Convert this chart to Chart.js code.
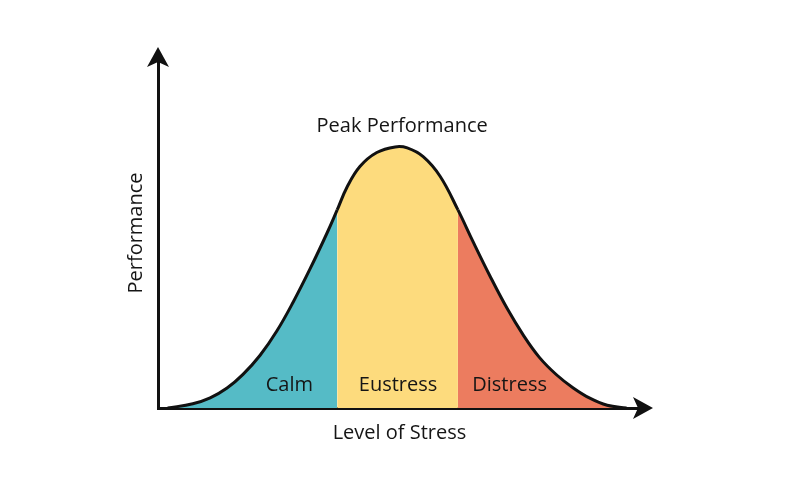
<!DOCTYPE html>
<html>
<head>
<meta charset="utf-8">
<title>Level of Stress vs Performance</title>
<script src="https://cdn.jsdelivr.net/npm/chart.js@4.4.1/dist/chart.umd.min.js"></script>
<style>
    html,body{margin:0;padding:0;background:#fff;}
    #wrap{width:800px;height:500px;}
</style>
</head>
<body>
<div id="wrap"><canvas id="stressChart" width="800" height="500"></canvas></div>
<script>

/* ==========================================
   DATA
========================================== */

// level of stress (x) and performance (y)
const stressLevels = [2, 7.2, 10.8, 14.3, 17.6, 21.1, 24.6, 28.0, 31.5, 35.0, 37.1,
                      39.1, 41.8, 45.3, 49.1, 51.6, 54.9, 58.4, 62.1,
                      65.2, 68.7, 72.3, 75.6, 79.0, 82.5, 85.9, 89.4, 93.0, 97.0];

const performance  = [0, 1.2, 2.9, 5.7, 9.6, 15.0, 22.0, 30.3, 39.8, 50.0, 56.6,
                      63.0, 69.0, 73.0, 74.6, 74.3, 71.8, 66.2, 56.6,
                      47.6, 37.8, 28.4, 20.9, 14.4, 9.5, 5.8, 2.8, 0.8, 0];

const zoneNames  = ["Calm", "Eustress", "Distress"];
const zoneEdges  = [37.1, 62.1];
const zoneColors = ["#55BBC6", "#FDDB7D", "#EC7C5F"];

// where the zone names sit (stress units)
const zoneLabelX = [27.2, 49.7, 72.8];

const peakLabel = "Peak Performance";
const axisTitleX = "Level of Stress";
const axisTitleY = "Performance";

/* ==========================================
   HELPERS
========================================== */

const points = stressLevels.map((x,i)=>({x:x, y:performance[i]}));

function zoneOf(x){

    if(x < zoneEdges[0]) return 0;
    if(x < zoneEdges[1]) return 1;
    return 2;

}

const textColor = "#151515";

/* ==========================================
   ANNOTATIONS + ARROWS
========================================== */

const stressPlugin = {

    id:"stressPlugin",

    afterDraw(chart){

        const ctx = chart.ctx;
        const area = chart.chartArea;
        const xs = chart.scales.x;
        const ys = chart.scales.y;

        ctx.save();

        // zone names
        ctx.fillStyle = textColor;
        ctx.font = "20px 'Open Sans'";
        ctx.textAlign = "center";
        ctx.textBaseline = "middle";

        zoneNames.forEach((name,i)=>{
            ctx.fillText(name, xs.getPixelForValue(zoneLabelX[i]), ys.getPixelForValue(6.6));
        });

        // peak label
        const peakIdx = performance.indexOf(Math.max(...performance));
        ctx.fillText(peakLabel,
            xs.getPixelForValue(stressLevels[peakIdx]) + 7,
            ys.getPixelForValue(performance[peakIdx]) - 21);

        // arrow heads
        ctx.fillStyle = "#111";

        // y axis (up)
        const ax = area.left;
        const at = area.top;
        ctx.beginPath();
        ctx.moveTo(ax, at - 11);
        ctx.lineTo(ax - 11, at + 9);
        ctx.lineTo(ax, at + 4);
        ctx.lineTo(ax + 11, at + 9);
        ctx.closePath();
        ctx.fill();

        // x axis (right)
        const bx = area.right;
        const by = area.bottom;
        ctx.beginPath();
        ctx.moveTo(bx + 12, by);
        ctx.lineTo(bx - 8, by - 11);
        ctx.lineTo(bx - 3, by);
        ctx.lineTo(bx - 8, by + 11);
        ctx.closePath();
        ctx.fill();

        ctx.restore();

    }

};

/* ==========================================
   CHART
========================================== */

Chart.defaults.font.family = "'Open Sans', sans-serif";
Chart.defaults.color = textColor;

const ctx = document.getElementById("stressChart").getContext("2d");

new Chart(ctx,{

    type:"line",

    data:{

        datasets:[{

            label:axisTitleY,

            data:points,

            borderColor:"#111",

            borderWidth:3,

            backgroundColor:zoneColors[0],

            fill:"origin",

            tension:0.4,

            pointRadius:0,

            segment:{
                backgroundColor:c=>zoneColors[zoneOf(c.p0.parsed.x)]
            }

        }]

    },

    options:{

        responsive:false,

        animation:false,

        devicePixelRatio:1,

        layout:{
            padding:{top:58, right:159, bottom:55, left:112}
        },

        plugins:{
            legend:{display:false},
            tooltip:{enabled:false}
        },

        scales:{

            x:{
                type:"linear",
                min:0,
                max:100,
                ticks:{display:false},
                grid:{display:false, drawTicks:false},
                border:{display:true, color:"#111", width:3},
                title:{
                    display:true,
                    text:axisTitleX,
                    color:textColor,
                    font:{size:20},
                    padding:{top:13, bottom:0}
                }
            },

            y:{
                min:0,
                max:100,
                ticks:{display:false},
                grid:{display:false, drawTicks:false},
                border:{display:true, color:"#111", width:3},
                title:{
                    display:true,
                    text:axisTitleY,
                    color:textColor,
                    font:{size:20},
                    padding:{top:12, bottom:10}
                }
            }

        }

    },

    plugins:[stressPlugin]

});

</script>
</body>
</html>
